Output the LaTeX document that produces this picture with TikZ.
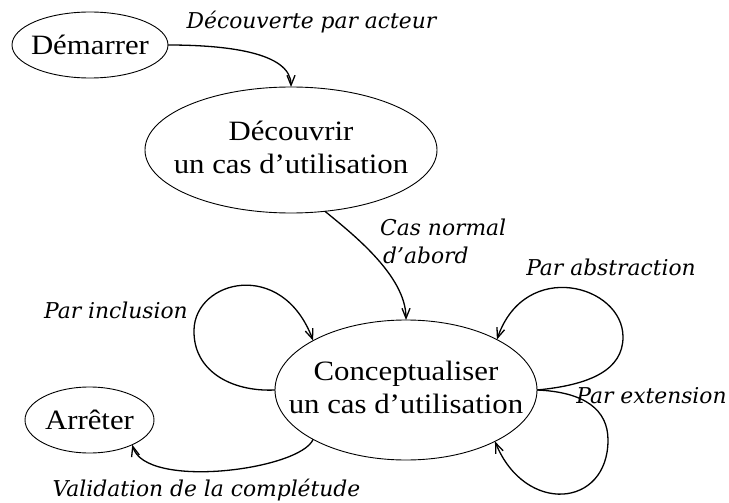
\documentclass[tikz,border=0pt]{standalone}
\usepackage{fontspec}
\setmainfont{Liberation Serif}
\newfontfamily\nodefont[FakeStretch=1.1]{Liberation Serif}
\newfontfamily\lblfont{DejaVu Serif}
\usetikzlibrary{shapes.geometric,arrows.meta}
\newcommand{\twolines}[2]{\makebox[0pt]{\raisebox{-3pt}{\begin{tabular}{@{}c@{}}#1\\#2\end{tabular}}}}
\newcommand{\oneline}[1]{\makebox[0pt]{\raisebox{-3pt}{#1}}}
\begin{document}
\begin{tikzpicture}[x=1pt,y=-1pt,
  state/.style={ellipse, draw, line width=0.9pt, inner sep=0pt, outer sep=0pt,
    font=\nodefont\fontsize{28}{33}\selectfont},
  lbl/.style={font=\lblfont\itshape\fontsize{21.8}{26}\selectfont, inner sep=0pt},
  flow/.style={line width=1.3pt, -{Straight Barb[length=10pt,width=8pt]}}]
\useasboundingbox (0,0) rectangle (729,503);

% states
\node[state, minimum width=156, minimum height=66] (dem) at (90,45) {\oneline{Démarrer}};
\node[state, minimum width=292, minimum height=126] (dec) at (291,150) {\twolines{Découvrir}{un cas d’utilisation}};
\node[state, minimum width=262, minimum height=140] (conc) at (406,390) {\twolines{Conceptualiser}{un cas d’utilisation}};
\node[state, minimum width=129, minimum height=66] (arr) at (89.5,420) {\oneline{Arrêter}};

% labels
\node[lbl, anchor=base] (l1) at (311.5,29) {Découverte par acteur};
\node[lbl, anchor=base west] (l2a) at (380,235) {Cas normal};
\node[lbl, anchor=base west] (l2b) at (383,263) {d’abord};
\node[lbl, anchor=base] (l3) at (611,275) {Par abstraction};
\node[lbl, anchor=base] (l4) at (116,318) {Par inclusion};
\node[lbl, anchor=base] (l5) at (651.5,403) {Par extension};
\node[lbl, anchor=base] (l6) at (206.5,496) {Validation de la complétude};

% connectors
\draw[flow] (dem.east) .. controls (225,45) and (291,52) .. (dec.north);
\draw[flow] (dec.-61) .. controls (350,232) and (406,275) .. (conc.north);
\draw[flow] (conc.west) .. controls (230,392) and (193,370) .. (194,330)
  .. controls (195,280) and (282,258) .. (conc.152);
\draw[flow] (conc.east) .. controls (590,385) and (623,370) .. (623,337)
  .. controls (623,285) and (525,258) .. (conc.29);
\draw[flow] (conc.east) .. controls (585,392) and (608,410) .. (608,440)
  .. controls (608,508) and (525,515) .. (conc.-30);
\draw[flow] (conc.208) .. controls (300,470) and (145,490) .. (arr.-30);
\end{tikzpicture}
\end{document}
